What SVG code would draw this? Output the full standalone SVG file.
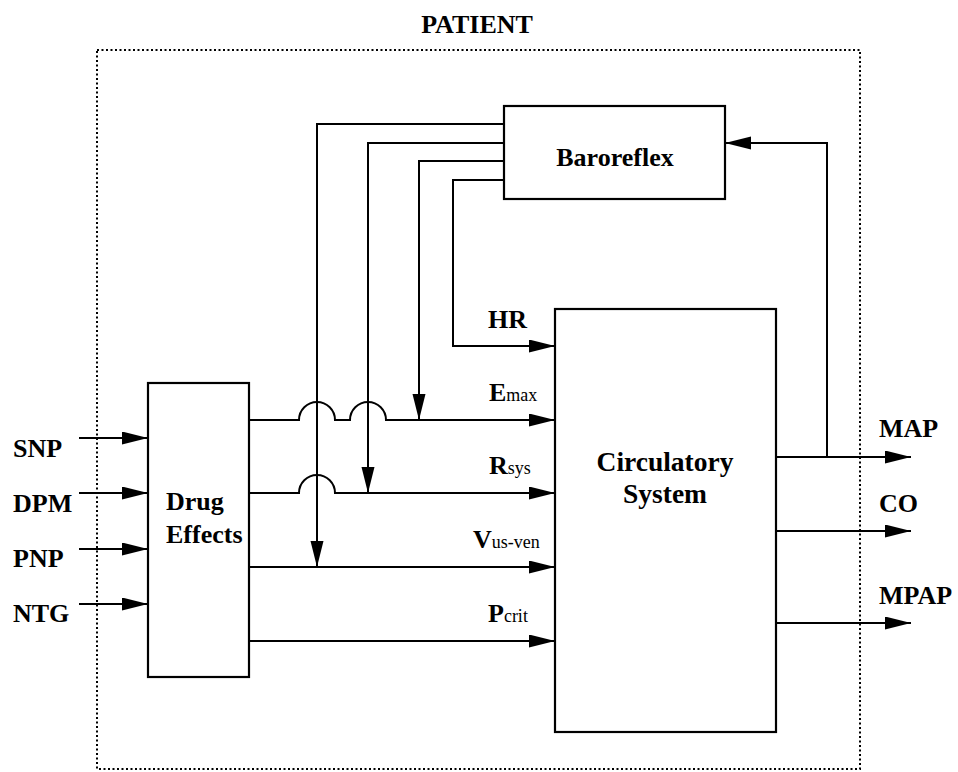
<svg xmlns="http://www.w3.org/2000/svg" width="958" height="772" viewBox="0 0 958 772">
<defs>
<marker id="ah" markerUnits="userSpaceOnUse" markerWidth="27" markerHeight="14" refX="26" refY="6.5" orient="auto">
<path d="M0,0 L26,6.5 L0,13 z" fill="#000"/>
</marker>
<style>
.box{fill:#fff;stroke:#000;stroke-width:2.2}
.ln{fill:none;stroke:#000;stroke-width:2}
.ar{fill:none;stroke:#000;stroke-width:2;marker-end:url(#ah)}
.t{font-family:"Liberation Serif","Times New Roman",serif;font-weight:bold;font-size:26px;fill:#000}
.big{font-size:27.5px}
.s{font-weight:normal;font-size:18px}
</style>
</defs>
<rect width="958" height="772" fill="#fff"/>
<g id="patient">
<rect x="97" y="50" width="763" height="719" fill="none" stroke="#000" stroke-width="2" stroke-dasharray="2 2.5"/>
<text class="t" x="477" y="33" text-anchor="middle">PATIENT</text>
</g>
<g id="connectors">
<path class="ar" d="M79,438 H148"/>
<path class="ar" d="M79,493 H148"/>
<path class="ar" d="M79,549 H148"/>
<path class="ar" d="M79,604 H148"/>
<path class="ar" d="M249,420 H299 A18,18 0 0 1 335,420 H350 A18,18 0 0 1 386,420 H555"/>
<path class="ar" d="M249,493 H299 A18,18 0 0 1 335,493 H555"/>
<path class="ar" d="M249,567 H555"/>
<path class="ar" d="M249,641 H555"/>
<path class="ar" d="M504,124 H317 V567"/>
<path class="ar" d="M504,143 H368 V493"/>
<path class="ar" d="M504,161 H419 V420"/>
<path class="ar" d="M504,180 H453 V346 H555"/>
<path class="ar" d="M776,457 H911"/>
<path class="ar" d="M776,531 H911"/>
<path class="ar" d="M776,623 H911"/>
<path class="ar" d="M827,457 V143 H725"/>
</g>
<g id="baroreflex">
<rect class="box" x="504" y="106" width="221" height="93"/>
<text class="t" x="615" y="166" text-anchor="middle">Baroreflex</text>
</g>
<g id="drug-effects">
<rect class="box" x="148" y="383" width="101" height="294"/>
<text class="t" x="166" y="510">Drug</text>
<text class="t" x="166" y="543">Effects</text>
</g>
<g id="circulatory-system">
<rect class="box" x="555" y="309" width="221" height="423"/>
<text class="t big" x="665" y="471" text-anchor="middle">Circulatory</text>
<text class="t big" x="665" y="503" text-anchor="middle">System</text>
</g>
<g id="labels">
<text class="t" x="13" y="457">SNP</text>
<text class="t" x="13" y="512">DPM</text>
<text class="t" x="13" y="567">PNP</text>
<text class="t" x="13" y="622">NTG</text>
<text class="t" x="488" y="328">HR</text>
<text class="t" x="489" y="401">E<tspan class="s">max</tspan></text>
<text class="t" x="489" y="474">R<tspan class="s">sys</tspan></text>
<text class="t" x="473" y="548">V<tspan class="s">us-ven</tspan></text>
<text class="t" x="488" y="622">P<tspan class="s">crit</tspan></text>
<text class="t" x="879" y="437">MAP</text>
<text class="t" x="879" y="512">CO</text>
<text class="t" x="879" y="604">MPAP</text>
</g>
</svg>
